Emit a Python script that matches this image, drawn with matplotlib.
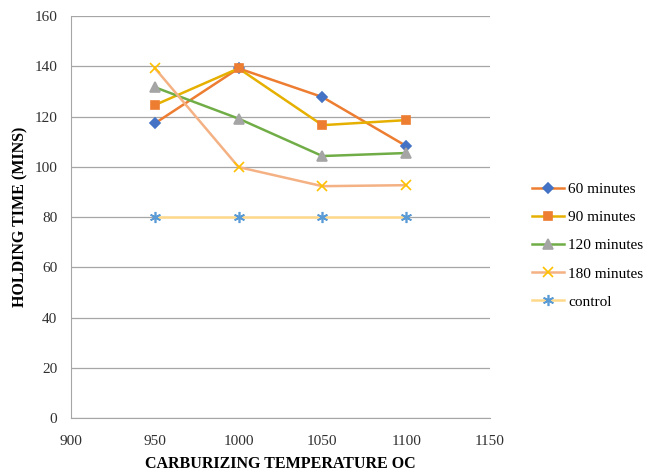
import matplotlib.pyplot as plt
import numpy as np

# 數據
temps = [950, 1000, 1050, 1100]
min60 = [117.3, 139.2, 127.8, 108.3]
min90 = [124.6, 139.2, 116.6, 118.6]
min120 = [131.7, 119.2, 104.3, 105.5]
min180 = [139.3, 99.9, 92.3, 92.7]
control = [80, 80, 80, 80]
labels = ['60 minutes', '90 minutes', '120 minutes', '180 minutes', 'control']

plt.rcParams['font.family'] = ['Liberation Serif', 'DejaVu Serif']

fig = plt.figure(figsize=(6.48, 4.75), dpi=100)
ax = fig.add_axes([0.1096, 0.12, 0.6465, 0.846])

# 線條顏色與標記顏色 (Excel 風格)
styles = [
    (min60, '#ED7D31', 'D', '#4472C4', 5),
    (min90, '#E6B000', 's', '#ED7D31', 5.5),
    (min120, '#70AD47', '^', '#A5A5A5', 6.5),
    (min180, '#F4B183', 'x', '#FFC000', 7),
    (control, '#FFD98A', (6, 2, 0), '#5B9BD5', 8),
]
for (vals, lc, mk, mc, ms), lab in zip(styles, labels):
    ax.plot(temps, vals, color=lc, lw=1.8, marker=mk, markersize=ms,
            markerfacecolor=mc, markeredgecolor=mc, markeredgewidth=1.2,
            label=lab, zorder=3)

ax.set_xlim(900, 1150)
ax.set_ylim(0, 160)
ax.set_xticks(np.arange(900, 1151, 50))
ax.set_yticks(np.arange(0, 161, 20))
ax.tick_params(length=0, labelsize=11, colors='#303030')
ax.tick_params(axis='x', pad=12)
ax.tick_params(axis='y', pad=10)
ax.yaxis.grid(True, color='#A6A6A6', lw=0.9)
ax.set_axisbelow(True)
for s in ['top', 'right']:
    ax.spines[s].set_visible(False)
for s in ['left', 'bottom']:
    ax.spines[s].set_color('#A6A6A6')

ax.set_xlabel('CARBURIZING TEMPERATURE OC', fontsize=11.5, fontweight='bold', labelpad=6)
ax.set_ylabel('HOLDING TIME (MINS)', fontsize=11.5, fontweight='bold', labelpad=4)

fig.legend(loc='center left', bbox_to_anchor=(0.8, 0.483), frameon=False,
           fontsize=11, handlelength=2.1, labelspacing=0.95, handletextpad=0.25)

plt.savefig('out.png', dpi=100, facecolor='white')
plt.close()
